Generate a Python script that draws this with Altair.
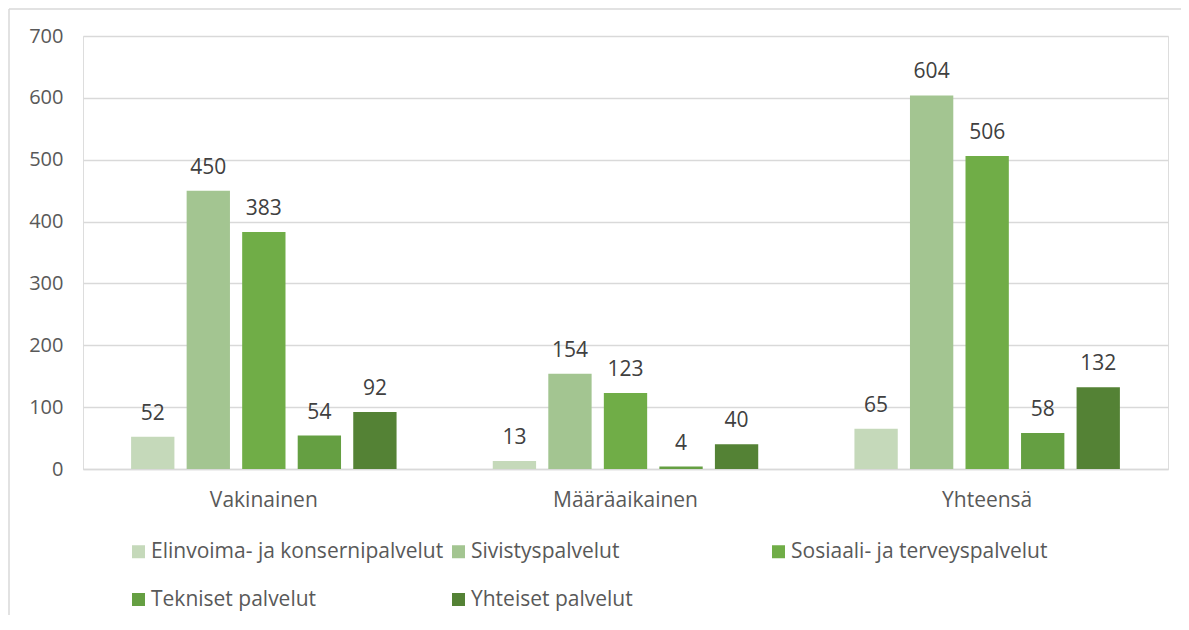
import altair as alt
import pandas as pd

categories = ["Vakinainen", "Määräaikainen", "Yhteensä"]
series = ["Elinvoima- ja konsernipalvelut", "Sivistyspalvelut",
          "Sosiaali- ja terveyspalvelut", "Tekniset palvelut", "Yhteiset palvelut"]
colors = ["#C5D9BA", "#A3C591", "#70AD47", "#659F42", "#548235"]
values = {
    "Elinvoima- ja konsernipalvelut": [52, 13, 65],
    "Sivistyspalvelut": [450, 154, 604],
    "Sosiaali- ja terveyspalvelut": [383, 123, 506],
    "Tekniset palvelut": [54, 4, 58],
    "Yhteiset palvelut": [92, 40, 132],
}

rows = []
for s in series:
    for c, v in zip(categories, values[s]):
        rows.append({"kategoria": c, "sarja": s, "arvo": v})
df = pd.DataFrame(rows)

# legend fills column by column with 2 rows: order so it reads row-wise
legend_order = [series[0], series[3], series[1], series[4], series[2]]
legend_colors = [colors[series.index(s)] for s in legend_order]

FONT = "Open Sans"
FS = 21

base = alt.Chart(df).encode(
    x=alt.X("kategoria:N", sort=categories, title=None,
            scale=alt.Scale(paddingInner=0.266, paddingOuter=0.133),
            axis=alt.Axis(labelAngle=0, labelFontSize=FS, labelColor="#595959",
                          labelPadding=20, ticks=False, domainColor="#D9D9D9",
                          domainWidth=1.5, labelFont=FONT)),
    xOffset=alt.XOffset("sarja:N", sort=series,
                        scale=alt.Scale(paddingInner=0.22, paddingOuter=0)),
)

bars = base.mark_bar().encode(
    y=alt.Y("arvo:Q", title=None,
            scale=alt.Scale(domain=[0, 700]),
            axis=alt.Axis(values=list(range(0, 701, 100)), labelFontSize=20,
                          labelColor="#595959", labelPadding=20, ticks=False,
                          domain=False, gridColor="#D9D9D9", gridWidth=1.5,
                          labelFont=FONT)),
    color=alt.Color("sarja:N",
                    scale=alt.Scale(domain=legend_order, range=legend_colors),
                    legend=alt.Legend(title=None, orient="none", legendX=45,
                                      legendY=505, columns=3,
                                      gridAlign="all", columnPadding=4,
                                      rowPadding=26, symbolType="square",
                                      symbolSize=169, symbolStrokeWidth=0,
                                      labelFontSize=FS, labelColor="#595959",
                                      labelFont=FONT, labelOffset=2,
                                      labelLimit=400)),
)

labels = base.mark_text(baseline="alphabetic", dy=-17, fontSize=FS,
                        color="#404040", font=FONT).encode(
    y=alt.Y("arvo:Q"),
    text=alt.Text("arvo:Q"),
)

frame_df = pd.DataFrame({"k": [0]})
frame_left = alt.Chart(frame_df).mark_rule(color="#D9D9D9", strokeWidth=1.5).encode(
    x=alt.value(-74), y=alt.value(-27), y2=alt.value(600))
frame_top = alt.Chart(frame_df).mark_rule(color="#D9D9D9", strokeWidth=1.5).encode(
    x=alt.value(-74), x2=alt.value(1100), y=alt.value(-27))

chart = (bars + labels + frame_left + frame_top).properties(
    width=1085, height=433,
    padding={"left": 75, "top": 28, "right": 13, "bottom": 146},
    autosize=alt.AutoSizeParams(type="none"),
).configure_view(stroke=None).configure(background="white")

chart.save("out.html", embed_options={"renderer": "svg", "actions": False})
